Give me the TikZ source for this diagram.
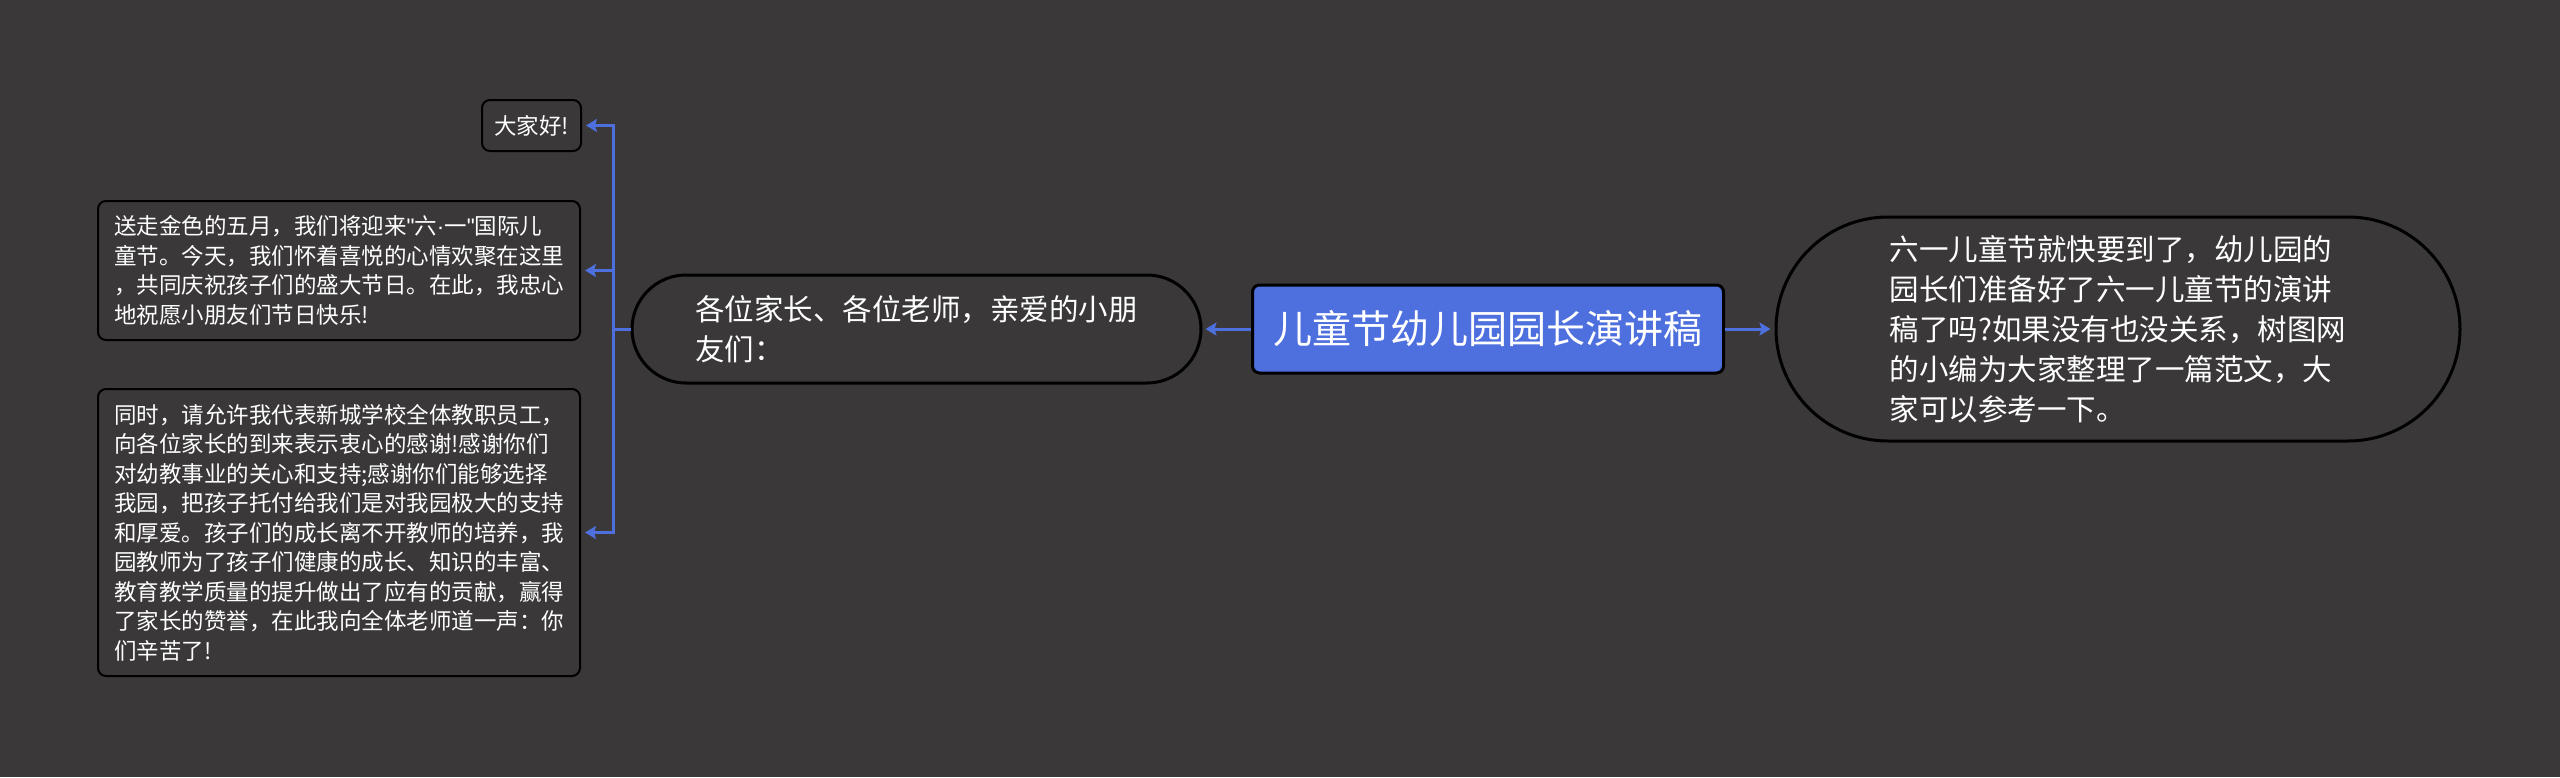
\documentclass[tikz,border=0pt]{standalone}
\usepackage{fontspec}
\setmainfont{Noto Sans CJK SC}
\newfontfamily\latf{Liberation Sans}
\usetikzlibrary{arrows.meta,shapes.misc}
\definecolor{bg}{HTML}{3A3839}
\definecolor{blu}{HTML}{4E6FDE}
\begin{document}
\begin{tikzpicture}[x=1pt,y=-1pt,
  conn/.style={blu, line width=3pt},
  tipped/.style={-{Stealth[length=11pt,width=13pt,inset=2pt]}},
  rootbox/.style={draw=black, line width=3pt, fill=blu, rounded corners=7pt, text=white, font=\fontsize{39pt}{46pt}\selectfont, inner sep=0pt},
  pill/.style={rounded rectangle, draw=black, line width=3pt, fill=bg, text=white, align=left, font=\fontsize{29.5pt}{40pt}\selectfont, inner sep=0pt},
  leaf/.style={draw=black, line width=2pt, fill=bg, rounded corners=8pt, text=white, align=left, font=\fontsize{22.5pt}{29.5pt}\selectfont, inner sep=0pt}
]
\fill[bg] (0,0) rectangle (2560,777);
\useasboundingbox (0,0) rectangle (2560,777);

\node[rootbox, minimum width=471pt, minimum height=88pt] (root) at (1488,329) {儿童节幼儿园园长演讲稿};
\node[pill, minimum width=684pt, minimum height=224pt] (intro) at (2118,329) {六一儿童节就快要到了，幼儿园的\\园长们准备好了六一儿童节的演讲\\稿了吗?如果没有也没关系，树图网\\的小编为大家整理了一篇范文，大\\家可以参考一下。};
\node[pill, minimum width=569pt, minimum height=108pt] (greet) at (916.5,329) {各位家长、各位老师，亲爱的小朋\\友们：};
\node[leaf, minimum width=99pt, minimum height=51pt] (b1) at (531.5,125.5) {大家好!};
\node[leaf, minimum width=482pt, minimum height=139pt] (b2) at (339,270.5) {送走金色的五月，我们将迎来{\latf\char"22}六{\latf·}一{\latf\char"22}国际儿\\童节。今天，我们怀着喜悦的心情欢聚在这里\\，共同庆祝孩子们的盛大节日。在此，我忠心\\地祝愿小朋友们节日快乐!};
\node[leaf, minimum width=482pt, minimum height=287pt] (b3) at (339,532.5) {同时，请允许我代表新城学校全体教职员工，\\向各位家长的到来表示衷心的感谢!感谢你们\\对幼教事业的关心和支持;感谢你们能够选择\\我园，把孩子托付给我们是对我园极大的支持\\和厚爱。孩子们的成长离不开教师的培养，我\\园教师为了孩子们健康的成长、知识的丰富、\\教育教学质量的提升做出了应有的贡献，赢得\\了家长的赞誉，在此我向全体老师道一声：你\\们辛苦了!};
\coordinate (j) at (613,329);

\draw[conn,tipped,shorten >=3pt] (root.west) -- (greet.east);
\draw[conn,tipped,shorten >=4pt] (root.east) -- (intro.west);
\draw[conn] (greet.west) -- (j);
\draw[conn,tipped,shorten >=4pt] (j) |- (b1.east);
\draw[conn,tipped,shorten >=4pt] (j) |- (b2.east);
\draw[conn,tipped,shorten >=4pt] (j) |- (b3.east);
\end{tikzpicture}
\end{document}
